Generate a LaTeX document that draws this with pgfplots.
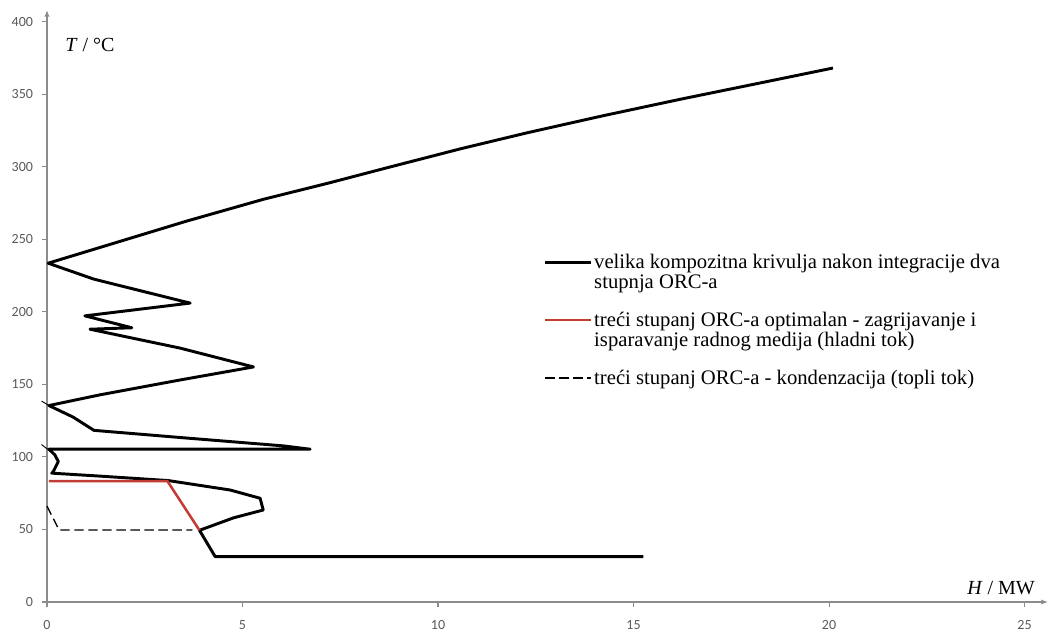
\documentclass[border=0pt]{standalone}
\usepackage{pgfplots}
\pgfplotsset{compat=1.18}
\usepackage{fontspec}
\setmainfont{Liberation Serif}
\newfontfamily\tickfont{Carlito}
\usetikzlibrary{arrows.meta}
\definecolor{axisgray}{RGB}{140,140,140}
\definecolor{ticktext}{RGB}{89,89,89}
\definecolor{orcred}{RGB}{195,60,52}
\pgfplotsset{twoleg/.style={legend image code/.code={\draw[##1] (0pt,7.5pt) -- (34pt,7.5pt);}}}

\begin{document}
\begin{tikzpicture}
\begin{axis}[
  scale only axis, width=750.75pt, height=444pt,
  xmin=0, xmax=25.6, ymin=0, ymax=408,
  axis lines=left,
  axis line style={draw=axisgray, line width=1.1pt, -{Latex[length=5pt,width=4pt]}},
  xtick={0,5,...,25}, ytick={0,50,...,400},
  tick align=outside, major tick length=4pt,
  tick style={draw=axisgray, line width=0.8pt},
  ticklabel style={font=\tickfont\fontsize{10.5}{12}\selectfont, text=ticktext},
  /pgf/number format/assume math mode=true,
  xticklabel style={yshift=-6pt},
  yticklabel style={xshift=-3pt},
  clip=false,
  legend style={at={(axis cs:12.6,243)}, anchor=north west, draw=none, fill=none,
    font=\fontsize{15.5}{15}\selectfont, cells={anchor=west, align=left}, row sep=13pt,
    nodes={inner sep=1.5pt}},
  legend image code/.code={\draw[#1] (0pt,0pt) -- (34pt,0pt);},
]
% grand composite curve
\addplot[black, line width=2.2pt, line join=round, twoleg] coordinates {
(20.1,368) (18.2,357.5) (16.2,346.5) (14.2,335) (12.3,323.5) (10.6,312.5)
(8.8,300) (7.24,289) (5.53,277.5) (3.57,262.5) (1.74,247.5) (0.03,233.5)
(1.2,222.5) (3.66,206) (0.97,197.2) (2.17,189) (1.10,188)
(3.4,175) (5.28,162) (3.4,153) (1.36,142.8) (0.05,135.4)
(0.67,127.4) (1.2,118.3) (3.57,113) (6.04,107.6) (6.73,105.3)
(0.05,105.3) (0.2,101.4) (0.29,96.8) (0.16,89.9) (0.12,88.8)
(1.27,86.9) (3.1,83.7) (4.68,77.2) (5.45,71.5) (5.53,63.4)
(4.77,58) (3.9,49.4) (4.3,31.3) (15.25,31.3)
};
\addlegendentry{velika kompozitna krivulja nakon integracije dva\\stupnja ORC-a}
% third ORC stage, cold stream
\addplot[orcred, line width=1.9pt, line join=round, twoleg] coordinates {
(0.05,83.3) (3.08,83.3) (3.9,49.4)
};
\addlegendentry{treći stupanj ORC-a optimalan - zagrijavanje i\\isparavanje radnog medija (hladni tok)}
% third ORC stage, condensation
\addplot[black, line width=1pt, dash pattern=on 7pt off 3.5pt] coordinates {
(0.0,66) (0.31,49.6) (3.72,49.6)
};
\addlegendentry{treći stupanj ORC-a - kondenzacija (topli tok)}
% small drawing artefacts at the axis
\addplot[black, line width=0.7pt, forget plot] coordinates {(-0.14,138.5) (0.05,135.4)};
\addplot[black, line width=0.7pt, forget plot] coordinates {(-0.14,108.5) (0.03,105)};

\node[anchor=west, font=\fontsize{15}{16}\selectfont] at (axis cs:0.35,384) {\textit{T} / °C};
\node[font=\fontsize{15}{16}\selectfont] at (axis cs:24.4,9.7) {\textit{H} / MW};
\end{axis}
\pgfresetboundingbox
\path (-35.25pt,-22.5pt) rectangle (755.25pt,451.5pt);
\end{tikzpicture}
\end{document}
